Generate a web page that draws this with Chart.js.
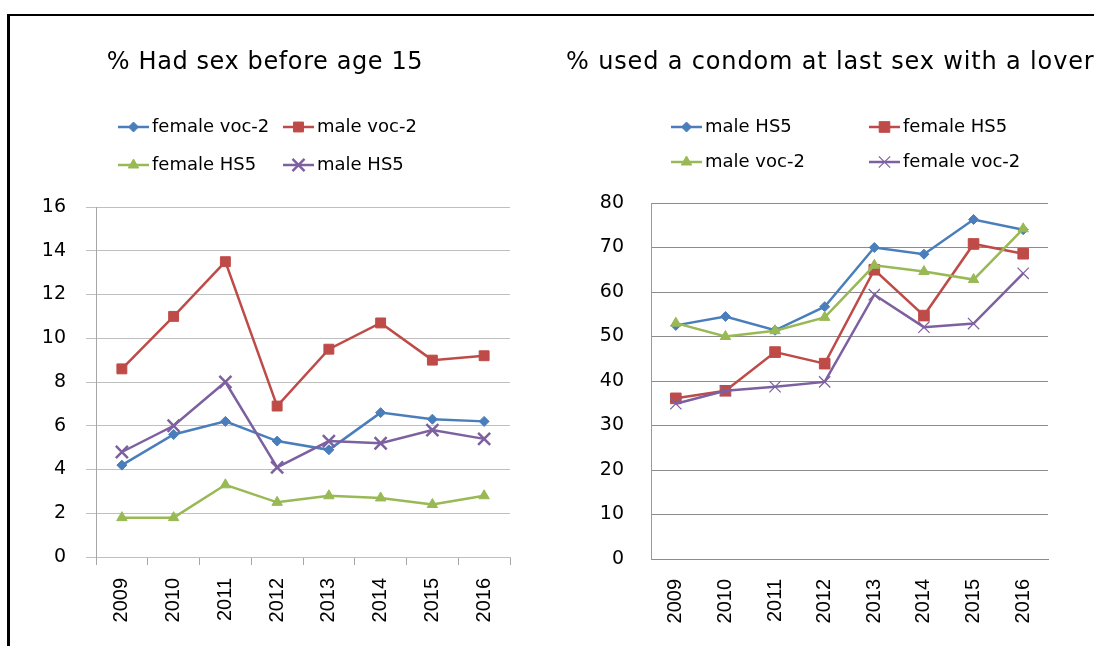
<!DOCTYPE html>
<html>
<head>
<meta charset="utf-8">
<script src="https://cdn.jsdelivr.net/npm/chart.js@4.4.0/dist/chart.umd.min.js"></script>
<style>
  html, body { margin: 0; padding: 0; background: #fff; }
  body { width: 1094px; height: 646px; position: relative; overflow: hidden; }
  #frame { position: absolute; left: 7px; top: 14px; width: 1300px; height: 900px;
           border-left: 3px solid #000; border-top: 2px solid #000; }
  canvas { position: absolute; top: 0; }
  #sexChart { left: 0; }
  #condomChart { left: 547px; }
</style>
</head>
<body>
<div id="frame"></div>
<canvas id="sexChart" width="547" height="646" style="width:547px;height:646px"></canvas>
<canvas id="condomChart" width="547" height="646" style="width:547px;height:646px"></canvas>
<script>
// Survey years shared by both panels
const years = ['2009', '2010', '2011', '2012', '2013', '2014', '2015', '2016'];

// % had sex before age 15
const sexFemaleVoc2 = [4.2, 5.6, 6.2, 5.3, 4.9, 6.6, 6.3, 6.2];
const sexMaleVoc2   = [8.6, 11.0, 13.5, 6.9, 9.5, 10.7, 9.0, 9.2];
const sexFemaleHS5  = [1.8, 1.8, 3.3, 2.5, 2.8, 2.7, 2.4, 2.8];
const sexMaleHS5    = [4.8, 6.0, 8.0, 4.1, 5.3, 5.2, 5.8, 5.4];

// % used a condom at last sex with a lover
const condomMaleHS5    = [52.5, 54.5, 51.4, 56.7, 70.0, 68.5, 76.3, 74.0];
const condomFemaleHS5  = [36.1, 37.8, 46.5, 43.9, 65.0, 54.7, 70.8, 68.6];
const condomMaleVoc2   = [53.0, 50.0, 51.3, 54.3, 66.0, 64.6, 62.8, 74.2];
const condomFemaleVoc2 = [34.9, 37.8, 38.7, 39.8, 59.4, 52.1, 52.9, 64.2];

// Value-axis ranges
const sexAxis    = { min: 0, max: 16, step: 2 };
const condomAxis = { min: 0, max: 80, step: 10 };

const BLUE = '#4A7EBB', RED = '#BE4B48', GREEN = '#98B954', PURPLE = '#7D60A0';

function series(label, data, color, style, radius, crossWidth, order) {
  return {
    label, data, order,
    borderColor: color, backgroundColor: color,
    borderWidth: 2.5,
    pointStyle: style, pointRadius: radius, pointHoverRadius: radius,
    pointBackgroundColor: color, pointBorderColor: color,
    pointBorderWidth: style === 'crossRot' ? crossWidth : 1,
    tension: 0, fill: false
  };
}

// Draws the panel heading and the two-column legend
const panelDecor = {
  id: 'panelDecor',
  afterDraw(chart, args, opts) {
    const ctx = chart.ctx;
    ctx.save();
    const t = opts.title;
    ctx.fillStyle = '#000';
    ctx.font = t.font;
    ctx.textAlign = t.align;
    ctx.textBaseline = 'middle';
    ctx.letterSpacing = t.spacing + 'px';
    ctx.fillText(t.text, t.x, t.y);
    ctx.letterSpacing = '0px';

    const lg = opts.legend;
    chart.data.datasets.forEach((ds, i) => {
      const s = lg.slots[i];
      ctx.strokeStyle = ds.borderColor;
      ctx.lineWidth = ds.borderWidth;
      ctx.beginPath();
      ctx.moveTo(s.x, s.y);
      ctx.lineTo(s.x + lg.lineLen, s.y);
      ctx.stroke();
      ctx.fillStyle = ds.pointBackgroundColor;
      ctx.strokeStyle = ds.pointBorderColor;
      ctx.lineWidth = ds.pointBorderWidth;
      Chart.helpers.drawPoint(ctx, {
        pointStyle: ds.pointStyle, radius: ds.pointRadius,
        borderWidth: ds.pointBorderWidth, rotation: 0
      }, s.x + lg.lineLen / 2, s.y);
      ctx.fillStyle = '#000';
      ctx.font = lg.font;
      ctx.textAlign = 'left';
      ctx.textBaseline = 'middle';
      ctx.fillText(ds.label, s.x + lg.lineLen + lg.gap, s.y);
    });
    ctx.restore();
  }
};

function makeChart(id, cfg) {
  return new Chart(document.getElementById(id), {
    type: 'line',
    data: { labels: years, datasets: cfg.datasets },
    plugins: [panelDecor],
    options: {
      responsive: false,
      animation: false,
      layout: { padding: cfg.padding },
      plugins: {
        legend: { display: false },
        title: { display: false },
        tooltip: { enabled: false },
        panelDecor: { title: cfg.title, legend: cfg.legend }
      },
      scales: {
        x: {
          offset: true,
          grid: {
            display: true, drawOnChartArea: false, offset: true,
            drawTicks: cfg.xTicks > 0, tickLength: cfg.xTicks, color: cfg.axisColor
          },
          border: { display: true, color: cfg.gridColor, width: 1 },
          ticks: {
            autoSkip: false, maxRotation: 90, minRotation: 90,
            padding: cfg.xPad, color: '#000',
            font: { family: 'Liberation Sans', size: 20 }
          },
          afterFit: s => { s.height = cfg.xHeight; }
        },
        y: {
          min: cfg.axis.min, max: cfg.axis.max,
          grid: {
            color: cfg.gridColor, lineWidth: 1,
            drawTicks: cfg.yTicks > 0, tickLength: cfg.yTicks
          },
          border: { display: true, color: cfg.yAxisColor, width: 1 },
          ticks: {
            stepSize: cfg.axis.step, padding: cfg.yPad, color: '#000',
            font: { family: 'DejaVu Sans', size: 19 }
          },
          afterFit: s => { s.width = cfg.yWidth; }
        }
      }
    }
  });
}

makeChart('sexChart', {
  datasets: [
    series('female voc-2', sexFemaleVoc2, BLUE, 'rectRot', 5, 1, 4),
    series('male voc-2', sexMaleVoc2, RED, 'rect', 7, 1, 3),
    series('female HS5', sexFemaleHS5, GREEN, 'triangle', 6, 1, 2),
    series('male HS5', sexMaleHS5, PURPLE, 'crossRot', 8.5, 2.5, 1)
  ],
  axis: sexAxis,
  padding: { left: 0, top: 207, right: 37, bottom: 0 },
  yWidth: 96, xHeight: 89,
  xTicks: 8, yTicks: 10, xPad: 13, yPad: 20,
  gridColor: '#BFBFBF', axisColor: '#A6A6A6', yAxisColor: '#A6A6A6',
  title: { text: '% Had sex before age 15', x: 265, y: 63, align: 'center',
           font: '24px "DejaVu Sans"', spacing: 0.6 },
  legend: {
    lineLen: 31, gap: 3, font: '18px "DejaVu Sans"',
    slots: [ { x: 118, y: 127 }, { x: 283, y: 127 }, { x: 118, y: 165 }, { x: 283, y: 165 } ]
  }
});

makeChart('condomChart', {
  datasets: [
    series('male HS5', condomMaleHS5, BLUE, 'rectRot', 5, 1, 4),
    series('female HS5', condomFemaleHS5, RED, 'rect', 7.5, 1, 3),
    series('male voc-2', condomMaleVoc2, GREEN, 'triangle', 6, 1, 2),
    series('female voc-2', condomFemaleVoc2, PURPLE, 'crossRot', 8, 1.2, 1)
  ],
  axis: condomAxis,
  padding: { left: 0, top: 203, right: 46, bottom: 0 },
  yWidth: 104, xHeight: 87,
  xTicks: 0, yTicks: 0, xPad: 20, yPad: 27,
  gridColor: '#8C8C8C', axisColor: '#8C8C8C', yAxisColor: '#7BA0CD',
  title: { text: '% used a condom at last sex with a lover', x: 19, y: 63, align: 'left',
           font: '24px "DejaVu Sans"', spacing: 0.85 },
  legend: {
    lineLen: 31, gap: 3, font: '18px "DejaVu Sans"',
    slots: [ { x: 124, y: 127 }, { x: 322, y: 127 }, { x: 124, y: 162 }, { x: 322, y: 162 } ]
  }
});
</script>
</body>
</html>
